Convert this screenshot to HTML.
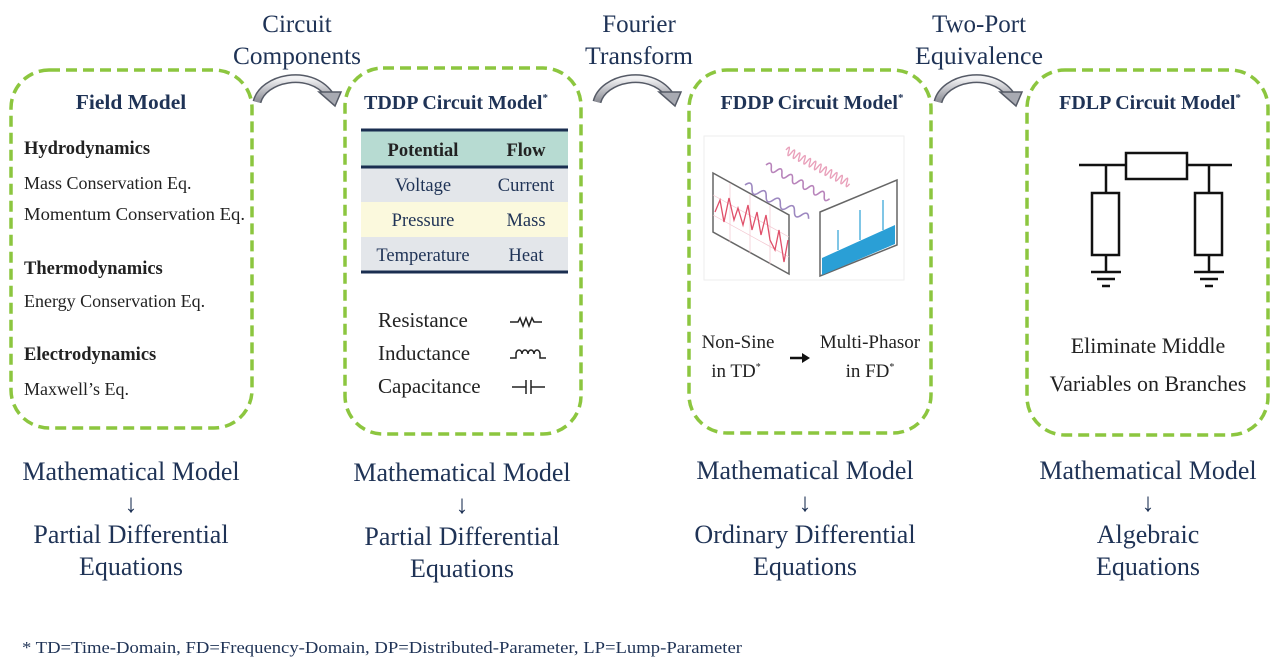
<!DOCTYPE html>
<html><head><meta charset="utf-8"><style>
html,body{margin:0;padding:0;background:#fff;}
svg{display:block;}
text{font-family:"Liberation Serif",serif;}
</style></head><body>
<svg width="1280" height="670" viewBox="0 0 1280 670" xmlns="http://www.w3.org/2000/svg">
<defs>
<linearGradient id="ag" x1="0" y1="0" x2="0" y2="1"><stop offset="0" stop-color="#f2f2f4"/><stop offset="1" stop-color="#8a8c94"/></linearGradient>
<g id="arr">
<path d="M0 28 C6 4 52 -6 72 20" fill="none" stroke="#555a66" stroke-width="9"/>
<path d="M0 28 C6 4 52 -6 72 20" fill="none" stroke="url(#ag)" stroke-width="6"/>
<polygon points="62,18 84,18 78,32" fill="#a8aab2" stroke="#555a66" stroke-width="1.5"/>
</g>
</defs>
<g fill="none" stroke="#8cc63f" stroke-width="3.5" stroke-dasharray="11,6">
<rect x="11" y="70" width="241" height="358" rx="38"/>
<rect x="345" y="68" width="236" height="366" rx="38"/>
<rect x="689" y="70" width="242" height="363" rx="38"/>
<rect x="1027" y="70" width="241" height="365" rx="38"/>
</g>
<use href="#arr" x="257" y="74"/>
<use href="#arr" x="597" y="74"/>
<use href="#arr" x="938" y="74"/>
<g fill="#1f3356" font-size="25" text-anchor="middle">
<text x="297" y="32">Circuit</text><text x="297" y="64" textLength="128" lengthAdjust="spacingAndGlyphs">Components</text>
<text x="639" y="32">Fourier</text><text x="639" y="64" textLength="108" lengthAdjust="spacingAndGlyphs">Transform</text>
<text x="979" y="32">Two-Port</text><text x="979" y="64" textLength="128" lengthAdjust="spacingAndGlyphs">Equivalence</text>
</g>
<g fill="#1f3356" font-size="20" font-weight="bold" text-anchor="middle">
<text x="131" y="109" font-size="21.5">Field Model</text>
<text x="456" y="109">TDDP Circuit Model<tspan font-size="11" dy="-8">*</tspan></text>
<text x="812" y="109">FDDP Circuit Model<tspan font-size="11" dy="-8">*</tspan></text>
<text x="1150" y="109">FDLP Circuit Model<tspan font-size="11" dy="-8">*</tspan></text>
</g>
<g fill="#222" font-size="18">
<text x="24" y="154" font-weight="bold" font-size="18.5">Hydrodynamics</text>
<text x="24" y="189">Mass Conservation Eq.</text>
<text x="24" y="220" textLength="221" lengthAdjust="spacingAndGlyphs">Momentum Conservation Eq.</text>
<text x="24" y="274" font-weight="bold" font-size="18.5">Thermodynamics</text>
<text x="24" y="307">Energy Conservation Eq.</text>
<text x="24" y="360" font-weight="bold" font-size="18.5">Electrodynamics</text>
<text x="24" y="395">Maxwell’s Eq.</text>
</g>
<rect x="361" y="130" width="207" height="37" fill="#b7dbd2"/>
<rect x="361" y="167" width="207" height="35" fill="#e3e6ea"/>
<rect x="361" y="202" width="207" height="35" fill="#fbf9dd"/>
<rect x="361" y="237" width="207" height="35" fill="#e3e6ea"/>
<g stroke="#1a2e50" stroke-width="3"><line x1="361" y1="130" x2="568" y2="130"/><line x1="361" y1="167" x2="568" y2="167"/><line x1="361" y1="272" x2="568" y2="272"/></g>
<g font-size="18.5" text-anchor="middle" fill="#1f3356">
<text x="423" y="156" font-weight="bold" fill="#222">Potential</text><text x="526" y="156" font-weight="bold" fill="#222">Flow</text>
<text x="423" y="191">Voltage</text><text x="526" y="191">Current</text>
<text x="423" y="226">Pressure</text><text x="526" y="226">Mass</text>
<text x="423" y="261">Temperature</text><text x="526" y="261">Heat</text>
</g>
<g font-size="21" fill="#222">
<text x="378" y="327">Resistance</text>
<text x="378" y="360">Inductance</text>
<text x="378" y="393">Capacitance</text>
</g>
<g fill="none" stroke="#222" stroke-width="1.5">
<path d="M510 322 h8 l2 -4 l3 8 l3 -8 l3 8 l3 -8 l2 4 h8"/>
<path d="M510 358 h6 v-4 a3 4 0 0 1 6 0 a3 4 0 0 1 6 0 a3 4 0 0 1 6 0 a3 4 0 0 1 6 0 v4 h6"/>
<path d="M512 387 h14 M526 380 v14 M531 380 v14 M531 387 h14"/>
</g>
<rect x="704" y="136" width="200" height="144" fill="#fff" stroke="#eee"/>
<polygon points="713,173 789,215 789,274 713,232" fill="#fff" stroke="#666" stroke-width="1.5"/>
<g stroke="#f3c6cf" stroke-width="0.7"><line x1="730" y1="183" x2="730" y2="242"/><line x1="750" y1="194" x2="750" y2="253"/><line x1="770" y1="205" x2="770" y2="264"/><line x1="713" y1="195" x2="789" y2="237"/><line x1="713" y1="215" x2="789" y2="257"/></g>
<polyline points="715,212 720,200 724,222 729,198 734,220 738,208 743,225 748,205 752,230 757,212 761,235 766,215 770,240 775,250 779,230 784,262 788,240" fill="none" stroke="#e0506a" stroke-width="1.3"/>
<polygon points="820,212 897,180 897,245 820,276" fill="#fff" stroke="#666" stroke-width="1.5"/>
<polygon points="822,258 895,225 895,244 822,275" fill="#2a9fd6"/>
<g stroke="#2a9fd6" stroke-width="1.2"><line x1="838" y1="250" x2="838" y2="230"/><line x1="860" y1="240" x2="860" y2="210"/><line x1="883" y1="230" x2="883" y2="200"/></g>
<path d="M745 185 q4 -8 8 0 t8 0 t8 0 t8 0 t8 0 t8 0 t8 0 t8 0 t8 0" transform="rotate(28 745 185)" fill="none" stroke="#9d88c0" stroke-width="1.6"/>
<path d="M766 165 q3 -7 6 0 t6 0 t6 0 t6 0 t6 0 t6 0 t6 0 t6 0 t6 0 t6 0 t6 0 t6 0" transform="rotate(28 766 165)" fill="none" stroke="#b884bb" stroke-width="1.6"/>
<path d="M786 150 q1.5 -8 3 0 t3 0 t3 0 t3 0 t3 0 t3 0 t3 0 t3 0 t3 0 t3 0 t3 0 t3 0 t3 0 t3 0 t3 0 t3 0 t3 0 t3 0 t3 0 t3 0 t3 0 t3 0 t3 0 t3 0" transform="rotate(28 786 150)" fill="none" stroke="#e9a1bb" stroke-width="1.4"/>
<g font-size="19" fill="#222" text-anchor="middle">
<text x="738" y="348">Non-Sine</text><text x="736" y="377">in TD<tspan font-size="10" dy="-7">*</tspan></text>
<text x="870" y="348">Multi-Phasor</text><text x="870" y="377">in FD<tspan font-size="10" dy="-7">*</tspan></text>
<text x="1148" y="353" font-size="22">Eliminate Middle</text>
<text x="1148" y="391" font-size="22">Variables on Branches</text>
</g>
<path d="M790 358 h14" stroke="#111" stroke-width="2.5"/><polygon points="802,353 810,358 802,363" fill="#111"/>
<g fill="none" stroke="#111" stroke-width="2.5">
<line x1="1079" y1="165" x2="1126" y2="165"/><line x1="1187" y1="165" x2="1232" y2="165"/>
<rect x="1126" y="153" width="61" height="26"/>
<line x1="1106" y1="165" x2="1106" y2="193"/><rect x="1092" y="193" width="27" height="62"/><line x1="1106" y1="255" x2="1106" y2="272"/>
<line x1="1209" y1="165" x2="1209" y2="193"/><rect x="1195" y="193" width="27" height="62"/><line x1="1209" y1="255" x2="1209" y2="272"/>
<line x1="1091" y1="272" x2="1121" y2="272"/><line x1="1097" y1="279" x2="1115" y2="279"/><line x1="1102" y1="286" x2="1110" y2="286"/>
<line x1="1194" y1="272" x2="1224" y2="272"/><line x1="1200" y1="279" x2="1218" y2="279"/><line x1="1205" y1="286" x2="1213" y2="286"/>
</g>
<g fill="#1f3356" font-size="26" text-anchor="middle">
<text x="131" y="480">Mathematical Model</text><text x="131" y="512">↓</text><text x="131" y="543">Partial Differential</text><text x="131" y="575">Equations</text>
<text x="462" y="481">Mathematical Model</text><text x="462" y="513">↓</text><text x="462" y="545">Partial Differential</text><text x="462" y="577">Equations</text>
<text x="805" y="479">Mathematical Model</text><text x="805" y="511">↓</text><text x="805" y="543">Ordinary Differential</text><text x="805" y="575">Equations</text>
<text x="1148" y="479">Mathematical Model</text><text x="1148" y="511">↓</text><text x="1148" y="543">Algebraic</text><text x="1148" y="575">Equations</text>
</g>
<text x="22" y="653" font-size="17" fill="#1f3356" textLength="720" lengthAdjust="spacingAndGlyphs">* TD=Time-Domain, FD=Frequency-Domain, DP=Distributed-Parameter, LP=Lump-Parameter</text>
</svg>
</body></html>
